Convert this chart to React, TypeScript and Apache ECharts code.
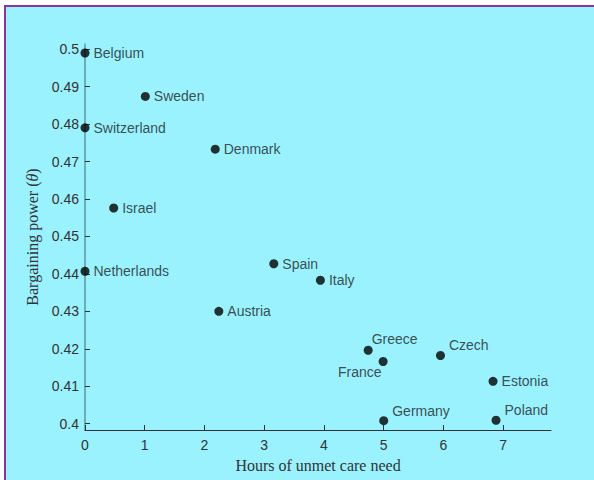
import React, { useEffect, useRef } from "react";
import * as echarts from "echarts";

const countries = ["Belgium", "Sweden", "Switzerland", "Denmark", "Israel", "Netherlands", "Spain", "Italy", "Austria", "Greece", "France", "Czech", "Estonia", "Germany", "Poland"];
const unmetHours = [0, 1.01, 0, 2.18, 0.48, 0, 3.16, 3.94, 2.24, 4.74, 4.99, 5.95, 6.83, 5.0, 6.88];
const bargainingPower = [0.499, 0.4874, 0.479, 0.4733, 0.4576, 0.4407, 0.4427, 0.4383, 0.43, 0.4196, 0.4166, 0.4182, 0.4113, 0.4008, 0.4009];
const xTicks = [0, 1, 2, 3, 4, 5, 6, 7];
const yTicks = [0.4, 0.41, 0.42, 0.43, 0.44, 0.45, 0.46, 0.47, 0.48, 0.49, 0.5];

const labelPlacement: Record<string, any> = {
  Greece: { position: "right", offset: [-5, -11] },
  Czech: { position: "right", offset: [0, -10] },
  Germany: { position: "right", offset: [0, -10] },
  Poland: { position: "right", offset: [0, -10] },
  France: { position: "left", offset: [7, 11] },
};

export default function App() {
  const ref = useRef<HTMLDivElement>(null);
  useEffect(() => {
    if (!ref.current) return;
    const chart = echarts.init(ref.current, undefined, { renderer: "svg" });
    const data = countries.map((c, i) => ({
      name: c,
      value: [unmetHours[i], bargainingPower[i]],
      label: { show: true, position: "right", distance: 4, ...(labelPlacement[c] || {}) },
    }));
    chart.setOption({
      animation: false,
      backgroundColor: "transparent",
      grid: { left: 85, right: 43, top: 44, bottom: 50 },
      xAxis: {
        type: "value",
        min: 0,
        max: 7.8,
        name: "Hours of unmet care need",
        nameLocation: "middle",
        nameGap: 27,
        nameTextStyle: { fontFamily: "Liberation Serif", fontSize: 16, color: "#333" },
        axisLine: { show: true, lineStyle: { color: "#333", width: 1 } },
        axisTick: { show: true, inside: true, length: 5, lineStyle: { color: "#333" }, customValues: xTicks },
        axisLabel: { customValues: xTicks, fontFamily: "Liberation Sans", fontSize: 14, color: "#333", margin: 8, formatter: (v: number) => String(v) },
        splitLine: { show: false },
      },
      yAxis: {
        type: "value",
        min: 0.3983,
        max: 0.5014,
        name: "Bargaining power ({i|θ})",
        nameLocation: "middle",
        nameGap: 42,
        nameTextStyle: {
          fontFamily: "Liberation Serif",
          fontSize: 16,
          color: "#333",
          rich: { i: { fontFamily: "Liberation Serif", fontStyle: "italic", fontSize: 16, color: "#333" } },
        },
        axisLine: { show: true, lineStyle: { color: "#5e96a0", width: 1.5 } },
        axisTick: { show: true, inside: true, length: 5, lineStyle: { color: "#333" }, customValues: yTicks },
        axisLabel: {
          customValues: yTicks,
          fontFamily: "Liberation Sans",
          fontSize: 14,
          color: "#333",
          margin: 6,
          formatter: (v: number) => String(Number(v.toFixed(2))),
        },
        splitLine: { show: false },
      },
      series: [
        {
          type: "scatter",
          symbol: "circle",
          symbolSize: 9,
          itemStyle: { color: "#000" },
          label: { fontFamily: "Liberation Sans", fontSize: 14, color: "#222", formatter: "{b}" },
          data,
        },
      ],
    });
    return () => chart.dispose();
  }, []);
  return (
    <>
      <div
        style={{
          position: "fixed",
          left: 4,
          top: 5,
          width: 640,
          height: 520,
          boxSizing: "border-box",
          borderLeft: "2px solid #8a35a0",
          borderTop: "2px solid #8a35a0",
          background: "#99f2fe",
        }}
      />
      <div ref={ref} style={{ position: "fixed", left: 0, top: 0, width: 594, height: 480 }} />
    </>
  );
}
